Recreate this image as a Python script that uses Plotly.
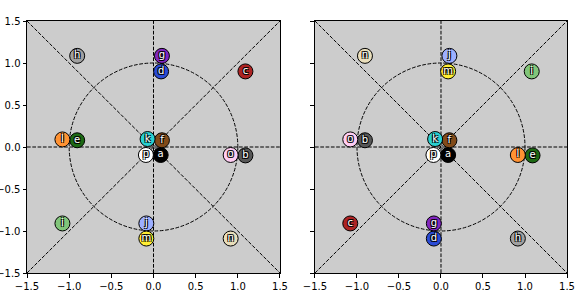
import plotly.graph_objects as go
from plotly.subplots import make_subplots

labels = list("abcdefghijklmnop")
colors = ["#000000", "#575757", "#AD2323", "#2A4BD7", "#1D6914", "#814A19",
          "#8126C0", "#A0A0A0", "#81C57A", "#9DAFFF", "#29D0D0", "#FF9233",
          "#FFEE33", "#E9DEBB", "#FFCDF3", "#FFFFFF"]

# left panel positions per label a..p
left_x = [0.085, 1.09, 1.09, 0.09, -0.905, 0.1, 0.1, -0.905,
          -1.08, -0.085, -0.07, -1.08, -0.085, 0.915, 0.915, -0.09]
left_y = [-0.095, -0.1, 0.9, 0.9, 0.08, 0.08, 1.085, 1.085,
          -0.91, -0.91, 0.095, 0.09, -1.09, -1.09, -0.095, -0.095]

# right panel positions per label a..p
right_x = [0.085, -0.905, -1.08, -0.085, 1.09, 0.1, -0.085, 0.915,
           1.08, 0.1, -0.07, 0.915, 0.085, -0.905, -1.08, -0.09]
right_y = [-0.095, 0.08, -0.91, -1.09, -0.1, 0.08, -0.91, -1.09,
           0.9, 1.085, 0.095, -0.095, 0.9, 1.085, 0.09, -0.095]

ticks = [-1.5, -1.0, -0.5, 0.0, 0.5, 1.0, 1.5]

fig = make_subplots(rows=1, cols=2, horizontal_spacing=0.065)

outline = ("-1px -1px 0 #000, 1px -1px 0 #000, -1px 1px 0 #000, 1px 1px 0 #000")

for col, (xs, ys) in enumerate([(left_x, left_y), (right_x, right_y)], start=1):
    fig.add_trace(go.Scatter(
        x=xs, y=ys, mode="markers+text", text=labels,
        textposition="middle center",
        textfont=dict(family="DejaVu Sans", size=10, color="white", shadow=outline),
        marker=dict(size=15, color=colors, line=dict(color="black", width=1)),
        hoverinfo="skip", showlegend=False), row=1, col=col)

dash = "3.7px,1.6px"
for xr, yr in [("x", "y"), ("x2", "y2")]:
    for (x0, y0, x1, y1) in [(-1.5, -1.5, 1.5, 1.5), (-1.5, 1.5, 1.5, -1.5),
                             (-1.5, 0, 1.5, 0), (0, -1.5, 0, 1.5)]:
        fig.add_shape(type="line", x0=x0, y0=y0, x1=x1, y1=y1, xref=xr, yref=yr,
                      line=dict(color="black", width=1, dash=dash), layer="below")
    fig.add_shape(type="circle", x0=-1, y0=-1, x1=1, y1=1, xref=xr, yref=yr,
                  line=dict(color="black", width=1, dash=dash), layer="below")

axis_common = dict(range=[-1.5, 1.5], tickvals=ticks, tickformat=".1f",
                   showgrid=False, zeroline=False, ticks="outside", ticklen=3.5,
                   tickwidth=1, tickcolor="black", showline=True, linecolor="black",
                   linewidth=1, mirror=True, automargin=False,
                   tickfont=dict(family="DejaVu Sans", size=10, color="black"))

fig.update_xaxes(**axis_common)
fig.update_yaxes(**axis_common)
fig.update_yaxes(showticklabels=False, row=1, col=2)
fig.update_xaxes(domain=[0, 0.4685], row=1, col=1)
fig.update_xaxes(domain=[0.5333, 1.0], row=1, col=2)

fig.update_layout(width=581, height=296,
                  margin=dict(l=27, r=14, t=21, b=23),
                  paper_bgcolor="white", plot_bgcolor="#cccccc")

fig.write_html("out.html", config={"displayModeBar": False},
               post_script="document.body.style.margin='0';document.body.style.overflow='hidden';")
